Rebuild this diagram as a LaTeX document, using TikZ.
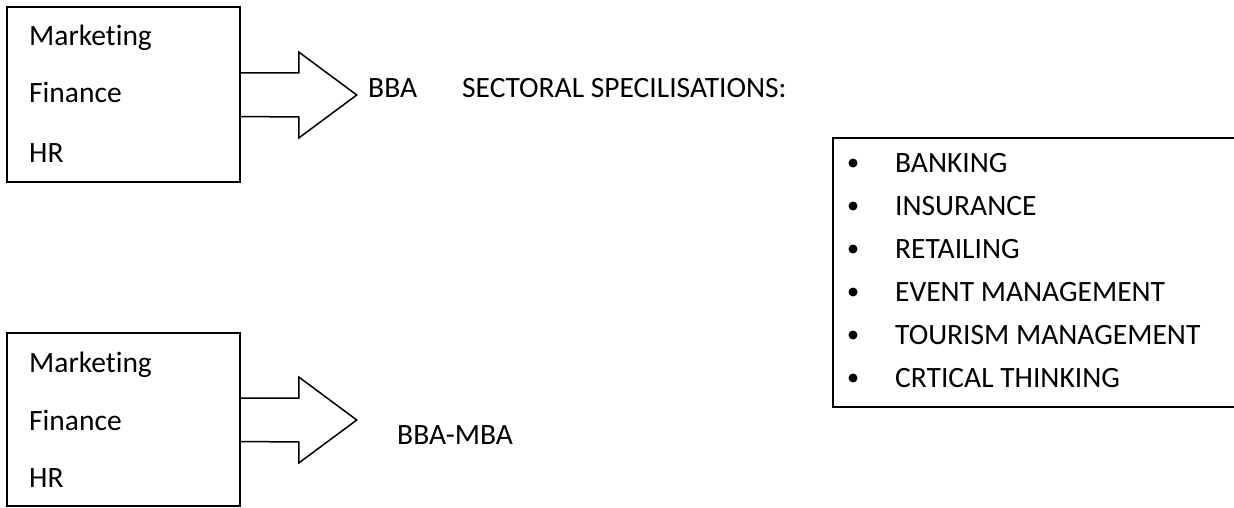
\documentclass[tikz,border=0pt]{standalone}
\usepackage{fontspec}
\setmainfont[Ligatures=NoCommon]{Carlito}
\usetikzlibrary{positioning}

\tikzset{
  streambox/.style={draw, line width=1.5pt, minimum width=233pt, minimum height=175pt, inner sep=0pt},
  subject/.style={anchor=base west, inner sep=0pt},
  degree/.style={anchor=base west, inner sep=0pt},
  bigarrow/.style={draw, line width=1.5pt, line join=miter},
  dot/.style={circle, fill, inner sep=0pt, minimum size=9pt}
}

\begin{document}
\begin{tikzpicture}[x=1pt, y=-1pt, font=\fontsize{29.5}{35}\selectfont]
    \useasboundingbox (0,0) rectangle (1234,508);

    % Upper stream: BBA
    \node[streambox] (bbabox) at (123.5,94.5) {};
    \node[subject] (mkt1) at (29,46) {Marketing};
    \node[subject] (fin1) at (29,103) {Finance};
    \node[subject] (hr1) at (29,162) {HR};
    \draw[bigarrow] ([yshift=21.5pt]bbabox.east) -- ++(58,0) -- ++(0,-21)
        -- ++(58,43) coordinate (tip1) -- ++(-58,43) -- ++(0,-21) -- ([yshift=-22pt]bbabox.east);
    \node[degree] (bba) at (368,98) {BBA};
    \node[degree] (sect) at (462,98) {SECTORAL SPECILISATIONS:};

    % Lower stream: BBA-MBA
    \node[streambox, minimum height=173pt] (mbabox) at (123.5,419.5) {};
    \node[subject] (mkt2) at (29,372) {Marketing};
    \node[subject] (fin2) at (29,430) {Finance};
    \node[subject] (hr2) at (29,487) {HR};
    \draw[bigarrow] ([yshift=21.5pt]mbabox.east) -- ++(58,0) -- ++(0,-21)
        -- ++(58,43) coordinate (tip2) -- ++(-58,43) -- ++(0,-21) -- ([yshift=-22pt]mbabox.east);
    \node[degree] (bbamba) at (397,444) {BBA-MBA};

    % Sectoral list (frame runs off the right edge)
    \coordinate (listtl) at (833,138);
    \coordinate (listbl) at (833,407);
    \draw[line width=1.5pt] (1236,138) -- (listtl) -- (listbl) -- (1236,407);
    \foreach \item [count=\i] in {BANKING, INSURANCE, RETAILING, EVENT MANAGEMENT,
        TOURISM MANAGEMENT, CRTICAL THINKING} {
      \node[degree] (item\i) at (895,{172+43*(\i-1)}) {\item};
      \node[dot] (dot\i) at (853,{172+43*(\i-1)-9}) {};
    }
\end{tikzpicture}
\end{document}
